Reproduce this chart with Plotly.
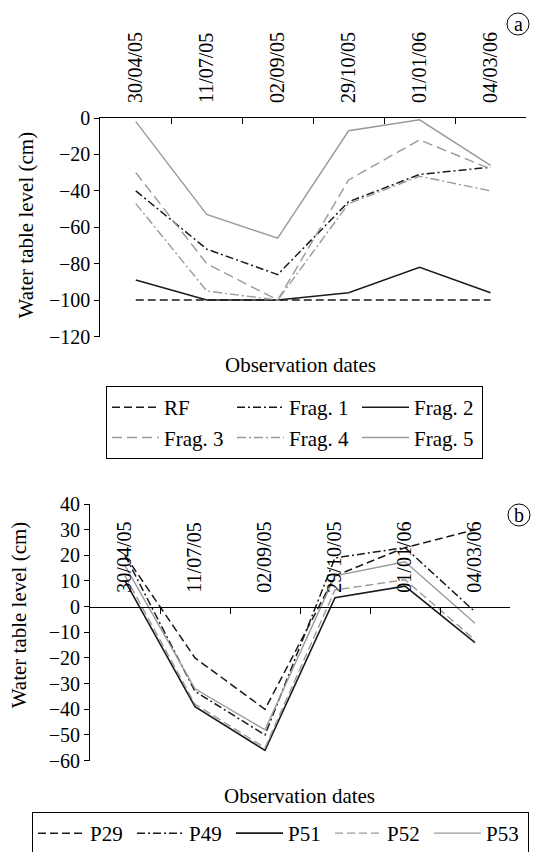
import plotly.graph_objects as go

# ---------------- data ----------------
dates = ["30/04/05", "11/07/05", "02/09/05", "29/10/05", "01/01/06", "04/03/06"]

# panel a
rf = [-100, -100, -100, -100, -100, -100]
frag1 = [-40, -72, -86, -46, -31, -27]
frag2 = [-89, -100, -100, -96, -82, -96]
frag3 = [-30, -80, -100, -34, -12, -28]
frag4 = [-47, -95, -100, -47, -32, -40]
frag5 = [-2, -53, -66, -7, -1, -26]

# panel b
p29 = [20, -20, -40, 12, 23, 30]
p49 = [20, -33, -50, 19, 23, -2]
p51 = [10, -39, -56, 3.5, 8, -14]
p52 = [12, -38, -55, 6.5, 10.5, -13]
p53 = [16, -32, -48, 12, 17.5, -6.5]

yticks_a = [0, -20, -40, -60, -80, -100, -120]
yticks_b = [40, 30, 20, 10, 0, -10, -20, -30, -40, -50, -60]

# ---------------- layout helpers ----------------
W, H = 533, 852
ML, MR, MT, MB = 80, 7, 5, 50
GW = W - ML - MR
GH = H - MT - MB


def fx(px):
    return (px - ML) / GW


def fy(py):
    return (H - MB - py) / GH


FONT = "Liberation Serif"
BLACK = "#1a1a1a"
GRAY = "#9a9a9a"

fig = go.Figure()

series_a = [
    ("RF", rf, BLACK, "8px,4px", 1.5),
    ("Frag. 1", frag1, BLACK, "8px,3px,2px,3px", 1.5),
    ("Frag. 2", frag2, BLACK, "solid", 1.5),
    ("Frag. 3", frag3, GRAY, "10px,5px", 1.4),
    ("Frag. 4", frag4, GRAY, "9px,3px,2px,3px", 1.4),
    ("Frag. 5", frag5, GRAY, "solid", 1.4),
]
for name, vals, col, dash, w in series_a:
    fig.add_trace(go.Scatter(
        x=dates, y=vals, name=name, mode="lines",
        line=dict(color=col, dash=dash, width=w),
        xaxis="x", yaxis="y", legend="legend",
    ))

series_b = [
    ("P29", p29, BLACK, "8px,4px", 1.5),
    ("P49", p49, BLACK, "8px,3px,2px,3px", 1.5),
    ("P51", p51, BLACK, "solid", 1.6),
    ("P52", p52, GRAY, "8px,4px", 1.4),
    ("P53", p53, GRAY, "solid", 1.4),
]
for name, vals, col, dash, w in series_b:
    fig.add_trace(go.Scatter(
        x=dates, y=vals, name=name, mode="lines",
        line=dict(color=col, dash=dash, width=w),
        xaxis="x2", yaxis="y2", legend="legend2",
    ))

# domains (pixel positions converted to paper fractions)
xa_dom = [fx(100.3), fx(526)]
ya_dom = [fy(336.5), fy(118)]
xb_dom = [fx(90), fx(510)]
yb_dom = [fy(760.6), fy(504)]
yb_range = [-60, 40]
xb_pos = yb_dom[0] + (0 - yb_range[0]) / (yb_range[1] - yb_range[0]) * (yb_dom[1] - yb_dom[0])

tickfont = dict(family=FONT, size=20, color="black")

common_x = dict(
    type="category", tickson="boundaries", ticks="inside", ticklen=6,
    tickangle=-90, showline=True, linecolor="black", linewidth=1,
    tickcolor="black", showgrid=False, zeroline=False, tickfont=tickfont,
    side="top", ticklabelstandoff=10, range=[-0.5, 5.5],
)
common_y = dict(
    showline=True, linecolor="black", linewidth=1, ticks="outside", ticklen=5,
    tickcolor="black", showgrid=False, zeroline=False, tickfont=tickfont,
)

legend_common = dict(
    orientation="h", xanchor="left", yanchor="top", itemwidth=47,
    bordercolor="black", borderwidth=1, bgcolor="white",
    font=dict(family=FONT, size=21, color="black"), traceorder="normal",
)

fig.update_layout(
    width=W, height=H,
    margin=dict(l=ML, r=MR, t=MT, b=MB, autoexpand=False),
    paper_bgcolor="white", plot_bgcolor="white",
    font=dict(family=FONT, size=20, color="black"),
    xaxis=dict(domain=xa_dom, anchor="y", **common_x),
    yaxis=dict(domain=ya_dom, anchor="x", range=[-120, 0], tickvals=yticks_a, **common_y),
    xaxis2=dict(domain=xb_dom, anchor="free", position=xb_pos, **common_x),
    yaxis2=dict(domain=yb_dom, anchor="x2", range=yb_range, tickvals=yticks_b, **common_y),
    legend=dict(x=fx(106), y=fy(386), entrywidth=63, **legend_common),
    legend2=dict(x=fx(32), y=fy(812), entrywidth=37, **legend_common),
    showlegend=True,
)

ann_font = dict(family=FONT, size=21, color="black")
annotations = [
    dict(text="Water table level (cm)", x=fx(25.5), y=fy(225), textangle=-90),
    dict(text="Observation dates", x=fx(300), y=fy(365)),
    dict(text="Water table level (cm)", x=fx(18.7), y=fy(614.6), textangle=-90),
    dict(text="Observation dates", x=fx(299), y=fy(795.6)),
    dict(text="a", x=fx(518), y=fy(24), font=dict(family=FONT, size=20, color="black")),
    dict(text="b", x=fx(519), y=fy(515), font=dict(family=FONT, size=20, color="black")),
]
for a in annotations:
    a.setdefault("font", ann_font)
    fig.add_annotation(xref="paper", yref="paper", showarrow=False,
                       xanchor="center", yanchor="middle", **a)

R = 11
for cx, cy in [(518, 24), (519, 515)]:
    fig.add_shape(type="circle", xref="paper", yref="paper",
                  x0=fx(cx - R), x1=fx(cx + R), y0=fy(cy + R), y1=fy(cy - R),
                  line=dict(color="black", width=1))

fig.write_html("out.html", config={"displayModeBar": False},
               post_script="document.body.style.margin='0';")
